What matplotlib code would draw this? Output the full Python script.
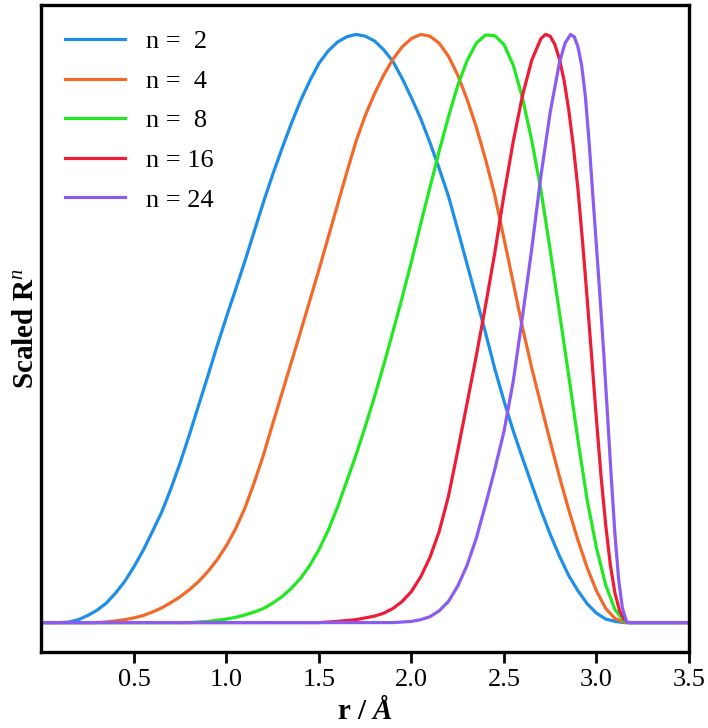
import matplotlib
matplotlib.use('Agg')
import matplotlib.pyplot as plt

plt.rcParams['font.family'] = ['Liberation Serif', 'DejaVu Serif']
plt.rcParams['mathtext.fontset'] = 'custom'
plt.rcParams['mathtext.rm'] = 'Liberation Serif'
plt.rcParams['mathtext.it'] = 'Liberation Serif:italic'
plt.rcParams['mathtext.bf'] = 'Liberation Serif:bold'
plt.rcParams['mathtext.bfit'] = 'Liberation Serif:bold:italic'

# values (r in Angstrom, scaled R^n, peak = 1)
r_n2 = [0.0, 0.10, 0.15, 0.20, 0.25, 0.30, 0.35, 0.40, 0.45, 0.50, 0.55, 0.60, 0.65,
        0.70, 0.75, 0.80, 0.85, 0.90, 0.95, 1.00, 1.05, 1.10, 1.15, 1.20, 1.25, 1.30,
        1.35, 1.40, 1.45, 1.50, 1.55, 1.60, 1.65, 1.70, 1.75, 1.80, 1.85, 1.90, 1.95,
        2.00, 2.05, 2.10, 2.15, 2.20, 2.25, 2.30, 2.35, 2.40, 2.45, 2.50, 2.55, 2.60,
        2.65, 2.70, 2.75, 2.80, 2.85, 2.90, 2.95, 3.00, 3.05, 3.10, 3.15, 3.5]
v_n2 = [0.0, 0.0, 0.001, 0.005, 0.012, 0.021, 0.033, 0.050, 0.070, 0.095, 0.123, 0.155,
        0.188, 0.228, 0.272, 0.320, 0.370, 0.420, 0.471, 0.520, 0.567, 0.615, 0.665,
        0.715, 0.762, 0.806, 0.848, 0.887, 0.921, 0.951, 0.972, 0.987, 0.996, 1.0,
        0.997, 0.989, 0.974, 0.954, 0.925, 0.892, 0.857, 0.816, 0.772, 0.725, 0.668,
        0.610, 0.552, 0.493, 0.432, 0.377, 0.326, 0.280, 0.235, 0.191, 0.150, 0.113,
        0.080, 0.054, 0.032, 0.016, 0.006, 0.002, 0.0, 0.0]

r_n4 = [0.0, 0.30, 0.35, 0.40, 0.45, 0.50, 0.55, 0.60, 0.65, 0.70, 0.75, 0.80, 0.85,
        0.90, 0.95, 1.00, 1.05, 1.10, 1.15, 1.20, 1.25, 1.30, 1.35, 1.40, 1.45, 1.50,
        1.55, 1.60, 1.65, 1.70, 1.75, 1.80, 1.85, 1.90, 1.95, 2.00, 2.05, 2.10, 2.15,
        2.20, 2.25, 2.30, 2.35, 2.40, 2.45, 2.50, 2.55, 2.60, 2.65, 2.70, 2.75, 2.80,
        2.85, 2.90, 2.95, 3.00, 3.05, 3.10, 3.15, 3.17, 3.5]
v_n4 = [0.0, 0.0, 0.001, 0.003, 0.005, 0.008, 0.012, 0.018, 0.025, 0.034, 0.044, 0.056,
        0.070, 0.087, 0.107, 0.131, 0.160, 0.195, 0.238, 0.285, 0.338, 0.390, 0.442,
        0.494, 0.547, 0.600, 0.655, 0.710, 0.765, 0.818, 0.862, 0.899, 0.931, 0.958,
        0.979, 0.993, 1.0, 0.997, 0.985, 0.963, 0.931, 0.890, 0.843, 0.788, 0.727,
        0.653, 0.578, 0.502, 0.433, 0.370, 0.308, 0.248, 0.192, 0.140, 0.093, 0.054,
        0.024, 0.007, 0.001, 0.0, 0.0]

r_n8 = [0.0, 0.80, 0.85, 0.90, 0.95, 1.00, 1.05, 1.10, 1.15, 1.20, 1.25, 1.30, 1.35,
        1.40, 1.45, 1.50, 1.55, 1.60, 1.65, 1.70, 1.75, 1.80, 1.85, 1.90, 1.95, 2.00,
        2.05, 2.10, 2.15, 2.20, 2.25, 2.30, 2.35, 2.40, 2.45, 2.50, 2.55, 2.60, 2.65,
        2.70, 2.75, 2.80, 2.85, 2.90, 2.95, 3.00, 3.05, 3.10, 3.15, 3.17, 3.5]
v_n8 = [0.0, 0.0, 0.001, 0.002, 0.004, 0.006, 0.009, 0.013, 0.018, 0.024, 0.033, 0.044,
        0.058, 0.075, 0.097, 0.124, 0.157, 0.196, 0.240, 0.285, 0.333, 0.384, 0.438,
        0.495, 0.553, 0.614, 0.678, 0.740, 0.802, 0.860, 0.913, 0.955, 0.985, 0.999,
        0.998, 0.983, 0.948, 0.892, 0.820, 0.735, 0.633, 0.527, 0.420, 0.310, 0.208,
        0.127, 0.064, 0.022, 0.002, 0.0, 0.0]

r_n16 = [0.0, 1.50, 1.60, 1.70, 1.75, 1.80, 1.85, 1.90, 1.95, 2.00, 2.05, 2.10, 2.15,
         2.20, 2.25, 2.30, 2.35, 2.40, 2.45, 2.50, 2.55, 2.60, 2.65, 2.70, 2.725, 2.75,
         2.775, 2.80, 2.825, 2.85, 2.875, 2.90, 2.925, 2.95, 2.975, 3.00, 3.025, 3.05,
         3.075, 3.10, 3.125, 3.15, 3.17, 3.5]
v_n16 = [0.0, 0.0, 0.002, 0.005, 0.008, 0.011, 0.016, 0.024, 0.036, 0.053, 0.078, 0.111,
         0.155, 0.215, 0.292, 0.372, 0.453, 0.538, 0.628, 0.727, 0.818, 0.896, 0.956,
         0.993, 1.0, 0.997, 0.983, 0.958, 0.922, 0.872, 0.810, 0.737, 0.647, 0.550,
         0.448, 0.345, 0.248, 0.166, 0.098, 0.050, 0.020, 0.005, 0.0, 0.0]

r_n24 = [0.0, 1.90, 2.00, 2.05, 2.10, 2.15, 2.20, 2.25, 2.30, 2.35, 2.40, 2.45, 2.50,
         2.55, 2.60, 2.65, 2.70, 2.75, 2.80, 2.83, 2.86, 2.88, 2.90, 2.92, 2.94, 2.96,
         2.98, 3.00, 3.02, 3.04, 3.06, 3.08, 3.10, 3.12, 3.14, 3.16, 3.17, 3.5]
v_n24 = [0.0, 0.0, 0.002, 0.005, 0.010, 0.020, 0.036, 0.062, 0.097, 0.143, 0.200, 0.260,
         0.325, 0.410, 0.520, 0.635, 0.760, 0.868, 0.952, 0.985, 1.0, 0.996, 0.979,
         0.947, 0.895, 0.818, 0.728, 0.640, 0.550, 0.455, 0.352, 0.247, 0.150, 0.073,
         0.025, 0.004, 0.0, 0.0]

labels = ['n =  2', 'n =  4', 'n =  8', 'n = 16', 'n = 24']
colors = ['#1E8FE8', '#F2692A', '#22E822', '#EE1C36', '#8A5CF2']

fig = plt.figure(figsize=(7.08, 7.28), dpi=100)
ax = fig.add_axes([0.0586, 0.1044, 0.9145, 0.8887])

series = [(r_n2, v_n2), (r_n4, v_n4), (r_n8, v_n8), (r_n16, v_n16), (r_n24, v_n24)]
for (x, y), lab, c in zip(series, labels, colors):
    ax.plot(x, y, color=c, lw=2.3, label=lab, solid_joinstyle='round')

ax.set_xlim(0, 3.5)
ax.set_ylim(-0.05, 1.05)
ax.set_xticks([0.5, 1.0, 1.5, 2.0, 2.5, 3.0, 3.5])
ax.set_xticklabels(['0.5', '1.0', '1.5', '2.0', '2.5', '3.0', '3.5'])
ax.set_yticks([])
ax.tick_params(axis='x', direction='out', length=8, width=2, labelsize=19, pad=4)
for s in ax.spines.values():
    s.set_linewidth(2.4)

ax.set_xlabel(r'r / $\mathbfit{Å}$', fontsize=21, fontweight='bold', labelpad=4)
ax.set_ylabel(r'Scaled R$^{\mathit{n}}$', fontsize=21, fontweight='bold', labelpad=2)

ax.legend(loc='upper left', frameon=False, fontsize=19, handlelength=2.27,
          handletextpad=0.8, labelspacing=0.61, bbox_to_anchor=(0.02, 0.978),
          borderaxespad=0)

fig.savefig('out.png', dpi=100)
